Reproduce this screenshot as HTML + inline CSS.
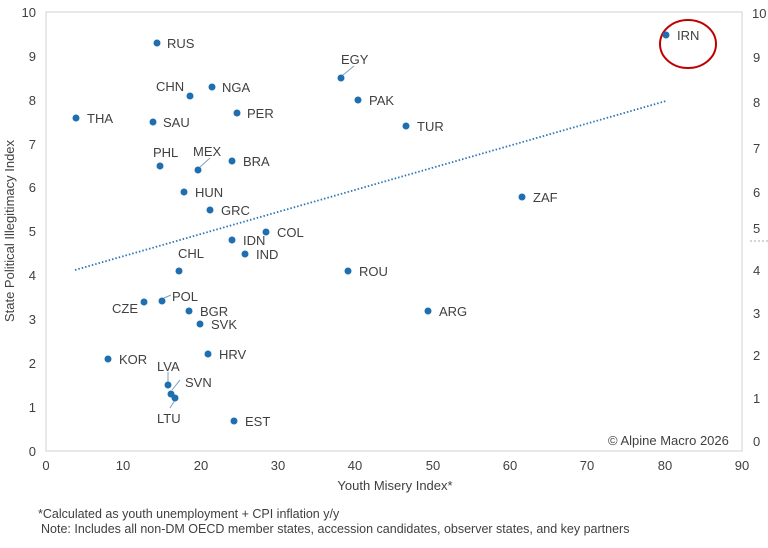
<!DOCTYPE html><html><head><style>body{margin:0;background:#fff}svg text{font-family:"Liberation Sans",sans-serif;fill:#404040}</style></head><body>
<svg width="768" height="543" viewBox="0 0 768 543" xmlns="http://www.w3.org/2000/svg">
<rect x="46" y="12" width="696" height="439" fill="none" stroke="#d0d0d0" stroke-width="1"/>
<g font-size="13" text-anchor="end">
<text x="36" y="456">0</text><text x="36" y="412">1</text><text x="36" y="368">2</text><text x="36" y="324">3</text><text x="36" y="280">4</text><text x="36" y="236">5</text><text x="36" y="192">6</text><text x="36" y="149">7</text><text x="36" y="105">8</text><text x="36" y="61">9</text><text x="36" y="17">10</text>
</g>
<g font-size="13" text-anchor="middle">
<text x="46" y="470">0</text><text x="123" y="470">10</text><text x="201" y="470">20</text><text x="278" y="470">30</text><text x="355" y="470">40</text><text x="433" y="470">50</text><text x="510" y="470">60</text><text x="587" y="470">70</text><text x="665" y="470">80</text><text x="742" y="470">90</text>
</g>
<g font-size="13">
<text x="752" y="18">10</text><text x="753" y="62">9</text><text x="753" y="107">8</text><text x="753" y="153">7</text><text x="753" y="197">6</text><text x="753" y="233">5</text><text x="753" y="275">4</text><text x="753" y="318">3</text><text x="753" y="360">2</text><text x="753" y="403">1</text><text x="753" y="446">0</text>
</g>
<line x1="750" y1="241" x2="768" y2="241" stroke="#aaa" stroke-dasharray="2,2"/>
<text x="395" y="490" font-size="13" text-anchor="middle">Youth Misery Index*</text>
<text transform="translate(14,231) rotate(-90)" font-size="13" text-anchor="middle">State Political Illegitimacy Index</text>
<line x1="75" y1="270" x2="666" y2="101" stroke="#2e75b6" stroke-width="1.8" stroke-dasharray="1.5,2"/>
<ellipse cx="688" cy="44" rx="28" ry="24" fill="none" stroke="#c00000" stroke-width="2"/>
<g stroke="#7f9fbf" stroke-width="1">
<line x1="343" y1="75" x2="354" y2="66"/><line x1="200" y1="167" x2="210" y2="158"/><line x1="164" y1="298" x2="171" y2="295"/><line x1="168" y1="382" x2="168" y2="372"/><line x1="172" y1="390" x2="180" y2="380"/><line x1="175" y1="400" x2="170" y2="408"/>
</g>
<g fill="#1f6fb0">
<circle cx="157" cy="43" r="3.5"/><circle cx="190" cy="96" r="3.5"/><circle cx="212" cy="87" r="3.5"/><circle cx="76" cy="118" r="3.5"/><circle cx="153" cy="122" r="3.5"/><circle cx="237" cy="113" r="3.5"/><circle cx="341" cy="78" r="3.5"/><circle cx="358" cy="100" r="3.5"/><circle cx="406" cy="126" r="3.5"/><circle cx="666" cy="35" r="3.5"/><circle cx="160" cy="166" r="3.5"/><circle cx="198" cy="170" r="3.5"/><circle cx="232" cy="161" r="3.5"/><circle cx="184" cy="192" r="3.5"/><circle cx="210" cy="210" r="3.5"/><circle cx="522" cy="197" r="3.5"/><circle cx="266" cy="232" r="3.5"/><circle cx="232" cy="240" r="3.5"/><circle cx="245" cy="254" r="3.5"/><circle cx="179" cy="271" r="3.5"/><circle cx="348" cy="271" r="3.5"/><circle cx="162" cy="301" r="3.5"/><circle cx="144" cy="302" r="3.5"/><circle cx="189" cy="311" r="3.5"/><circle cx="200" cy="324" r="3.5"/><circle cx="428" cy="311" r="3.5"/><circle cx="108" cy="359" r="3.5"/><circle cx="208" cy="354" r="3.5"/><circle cx="168" cy="385" r="3.5"/><circle cx="171" cy="394" r="3.5"/><circle cx="175" cy="398" r="3.5"/><circle cx="234" cy="421" r="3.5"/>
</g>
<g font-size="13">
<text x="167" y="48">RUS</text><text x="156" y="91">CHN</text><text x="222" y="92">NGA</text><text x="87" y="123">THA</text><text x="163" y="127">SAU</text><text x="247" y="118">PER</text><text x="341" y="64">EGY</text><text x="369" y="105">PAK</text><text x="417" y="131">TUR</text><text x="677" y="40">IRN</text><text x="153" y="157">PHL</text><text x="193" y="156">MEX</text><text x="243" y="166">BRA</text><text x="195" y="197">HUN</text><text x="221" y="215">GRC</text><text x="533" y="202">ZAF</text><text x="277" y="237">COL</text><text x="243" y="245">IDN</text><text x="256" y="259">IND</text><text x="178" y="258">CHL</text><text x="359" y="276">ROU</text><text x="172" y="301">POL</text><text x="112" y="313">CZE</text><text x="200" y="316">BGR</text><text x="211" y="329">SVK</text><text x="439" y="316">ARG</text><text x="119" y="364">KOR</text><text x="219" y="359">HRV</text><text x="157" y="371">LVA</text><text x="185" y="387">SVN</text><text x="157" y="423">LTU</text><text x="245" y="426">EST</text>
</g>
<text x="608" y="445" font-size="13">© Alpine Macro 2026</text>
<text x="38" y="518" font-size="12.5">*Calculated as youth unemployment + CPI inflation y/y</text>
<text x="41" y="533" font-size="12.5">Note: Includes all non-DM OECD member states, accession candidates, observer states, and key partners</text>
</svg>
</body></html>
